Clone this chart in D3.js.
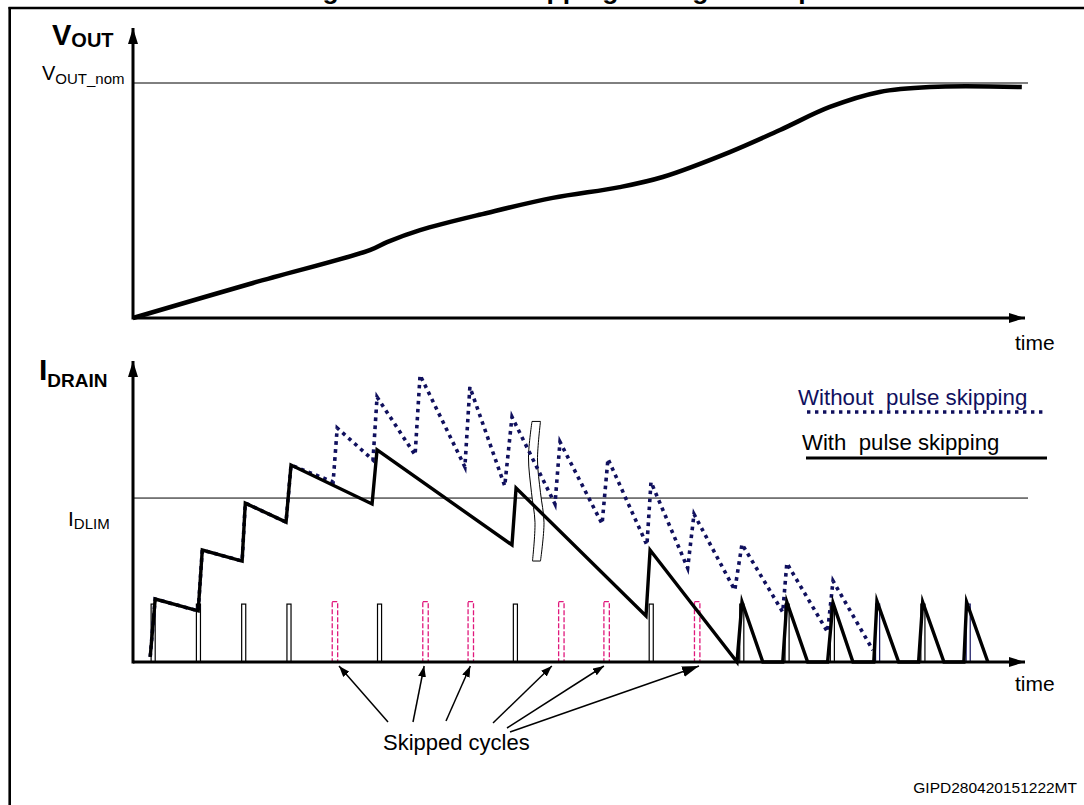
<!DOCTYPE html>
<html lang="en">
<head>
<meta charset="UTF-8">
<title>Pulse skipping during start-up</title>
<script src="https://cdn.jsdelivr.net/npm/d3@7/dist/d3.min.js"></script>
<style>
  body { margin: 0; background: #fff; }
  svg { display: block; font-family: "Liberation Sans", Arial, sans-serif; }
</style>
</head>
<body>
<div id="chart"></div>
<script>
// time axis is counted in switching cycles: cycle n = n-th gate pulse
const pulseCycles = [0, 1, 2, 3, 4, 5, 6, 7, 8, 9, 10, 11, 12, 13, 14, 15, 16, 17, 18];
const skippedCycles = [4, 6, 7, 9, 10, 12];
const navyPulseCycles = [16, 18];
const pulseHeight = 19.5;

// output voltage, fraction of V_OUT_nom
const voutTime = [-0.4, 2.25, 4.83, 5.21, 5.94, 7.42, 8.87, 10.35, 11.30, 12.78, 13.89, 14.99, 16.09, 17.20, 19.23];
const voutValue = [0, 0.149, 0.289, 0.323, 0.374, 0.447, 0.511, 0.557, 0.600, 0.706, 0.800, 0.898, 0.962, 0.983, 0.983];

// drain current, % of the plotted range
const withSkipTime = [-0.02, 0.09, 1.04, 1.13, 2.01, 2.08, 2.98, 3.09, 4.88, 4.99, 7.97, 8.06, 10.93, 11.02, 12.94,
  13.05, 13.51, 13.95, 14.04, 14.50, 14.94, 15.06, 15.50, 15.96, 16.03, 16.51, 16.95, 17.04, 17.51, 17.95, 18.01, 18.48];
const withSkipCurrent = [1.7, 21.2, 17.2, 37.7, 34.0, 53.5, 47.1, 66.3, 53.2, 71.4, 39.4, 58.6, 15.5, 37.7, 0,
  20.2, 0, 0, 20.2, 0, 0, 19.9, 0, 0, 20.5, 0, 0, 20.2, 0, 0, 20.2, 0];

const noSkipTime = [-0.02, 0.09, 1.04, 1.13, 2.01, 2.08, 2.98, 3.09, 4.02, 4.11, 4.90, 4.99, 5.83, 5.94, 6.93, 7.04,
  7.81, 7.97, 8.92, 9.03, 9.96, 10.09, 10.95, 11.04, 11.85, 11.99, 12.89, 13.05, 13.95, 14.04, 14.94, 15.06, 15.94];
const noSkipCurrent = [1.7, 21.2, 17.2, 37.7, 34.0, 53.5, 47.1, 66.3, 60.6, 78.8, 68.0, 89.2, 69.7, 96.6, 65.7, 92.6,
  59.3, 82.5, 53.2, 74.1, 46.5, 68.4, 39.4, 60.6, 31.6, 49.8, 24.2, 39.7, 16.8, 33.3, 10.1, 27.3, 4.0];

const currentLimit = 55.2;
const arrowTargets = [4.15, 6.03, 7.05, 8.85, 10.0, 12.1];

const navy = "#10105e", pink = "#e0187c";
const W = 1084, H = 805;

const svg = d3.select("#chart").append("svg")
  .attr("width", W)
  .attr("height", H);

const x = d3.scaleLinear().domain([-0.4, 19.3]).range([133, 1025]);
const yV = d3.scaleLinear().domain([0, 1]).range([318, 83]);
const yI = d3.scaleLinear().domain([0, 100]).range([662, 365]);

// arrow heads
const defs = svg.append("defs");
function marker(id, len, wid) {
  defs.append("marker")
    .attr("id", id)
    .attr("viewBox", `0 0 ${len} ${wid}`)
    .attr("refX", len).attr("refY", wid / 2)
    .attr("markerWidth", len).attr("markerHeight", wid)
    .attr("markerUnits", "userSpaceOnUse")
    .attr("orient", "auto")
    .append("path")
    .attr("d", `M0,0L${len},${wid / 2}L0,${wid}Z`)
    .attr("fill", "#000");
}
marker("axisArrow", 16, 10);
marker("smallArrow", 11, 8);
marker("bigArrow", 17, 11);

// frame + title (cut by the top edge, as in the source figure)
svg.append("text")
  .attr("x", 299).attr("y", -1)
  .attr("font-size", 26.5).attr("font-weight", "bold")
  .text("Figure 12. Pulse skipping during start-up");
svg.append("line").attr("x1", 8.5).attr("x2", W).attr("y1", 8).attr("y2", 8)
  .attr("stroke", "#000").attr("stroke-width", 2.6);
svg.append("line").attr("x1", 9.7).attr("x2", 9.7).attr("y1", 7).attr("y2", H)
  .attr("stroke", "#000").attr("stroke-width", 2.6);

// ---------- V_OUT panel ----------
const voutPanel = svg.append("g");
voutPanel.append("line")
  .attr("x1", x(-0.4)).attr("x2", 1028)
  .attr("y1", yV(1)).attr("y2", yV(1))
  .attr("stroke", "#000").attr("stroke-width", 1);

voutPanel.append("path")
  .datum(voutTime.map((t, i) => [t, voutValue[i]]))
  .attr("fill", "none")
  .attr("stroke", "#000")
  .attr("stroke-width", 4.5)
  .attr("d", d3.line().x(d => x(d[0])).y(d => yV(d[1])).curve(d3.curveCatmullRom.alpha(0.5)));

voutPanel.append("line")
  .attr("x1", x.range()[0]).attr("x2", x.range()[1])
  .attr("y1", yV(0)).attr("y2", yV(0))
  .attr("stroke", "#000").attr("stroke-width", 3)
  .attr("marker-end", "url(#axisArrow)");
voutPanel.append("line")
  .attr("x1", x.range()[0]).attr("x2", x.range()[0])
  .attr("y1", yV(0) + 1.5).attr("y2", 28)
  .attr("stroke", "#000").attr("stroke-width", 3)
  .attr("marker-end", "url(#axisArrow)");

const vLab = voutPanel.append("text").attr("x", 52).attr("y", 45).attr("font-weight", "bold");
vLab.append("tspan").attr("font-size", 29).text("V");
vLab.append("tspan").attr("font-size", 20).attr("dy", 2).text("OUT");

const nomLab = voutPanel.append("text").attr("x", 42).attr("y", 80);
nomLab.append("tspan").attr("font-size", 20).text("V");
nomLab.append("tspan").attr("font-size", 15).attr("dy", 4).text("OUT_nom");

voutPanel.append("text").attr("x", 1015).attr("y", 350).attr("font-size", 21).text("time");

// ---------- I_DRAIN panel ----------
const drainPanel = svg.append("g");

drainPanel.append("line")
  .attr("x1", x(-0.4)).attr("x2", 1028)
  .attr("y1", yI(currentLimit)).attr("y2", yI(currentLimit))
  .attr("stroke", "#000").attr("stroke-width", 1);

// gate pulses
const pw = 0.09;
drainPanel.append("g").selectAll("rect")
  .data(pulseCycles.filter(c => !skippedCycles.includes(c)))
  .join("rect")
  .attr("x", c => x(c))
  .attr("y", yI(pulseHeight))
  .attr("width", x(pw) - x(0))
  .attr("height", yI(0) - yI(pulseHeight))
  .attr("fill", "#fff")
  .attr("stroke", c => navyPulseCycles.includes(c) ? navy : "#000")
  .attr("stroke-width", 1.2);

drainPanel.append("g").selectAll("rect")
  .data(skippedCycles)
  .join("rect")
  .attr("x", c => x(c))
  .attr("y", yI(pulseHeight + 0.8))
  .attr("width", x(0.12) - x(0))
  .attr("height", yI(0) - yI(pulseHeight + 0.8))
  .attr("fill", "none")
  .attr("stroke", pink)
  .attr("stroke-width", 1.3)
  .attr("stroke-dasharray", "5,2");

// break marker
const bx = x(8.5);
const breakLeft = [[bx - 4, yI(81)], [bx - 7.5, yI(69)], [bx - 4.5, yI(57)], [bx - 1, yI(47)], [bx - 3.5, yI(34)]];
const breakRight = [[bx + 4.5, yI(34)], [bx + 8, yI(47)], [bx + 4.5, yI(57)], [bx + 1.5, yI(68)], [bx + 4.5, yI(81)]];
const edge = d3.line().curve(d3.curveCatmullRom);
drainPanel.append("path")
  .attr("d", edge(breakLeft) + "L" + edge(breakRight).slice(1) + "Z")
  .attr("fill", "#fff")
  .attr("stroke", "#000")
  .attr("stroke-width", 1);

const lineI = d3.line().x(d => x(d[0])).y(d => yI(d[1]));

drainPanel.append("path")
  .datum(noSkipTime.map((t, i) => [t, noSkipCurrent[i]]))
  .attr("fill", "none")
  .attr("stroke", navy)
  .attr("stroke-width", 3.6)
  .attr("stroke-dasharray", "3.6,4.4")
  .attr("d", lineI);

drainPanel.append("path")
  .datum(withSkipTime.map((t, i) => [t, withSkipCurrent[i]]))
  .attr("fill", "none")
  .attr("stroke", "#000")
  .attr("stroke-width", 3.4)
  .attr("stroke-linejoin", "miter")
  .attr("stroke-miterlimit", 10)
  .attr("d", lineI);

drainPanel.append("line")
  .attr("x1", x.range()[0]).attr("x2", x.range()[1])
  .attr("y1", yI(0)).attr("y2", yI(0))
  .attr("stroke", "#000").attr("stroke-width", 3)
  .attr("marker-end", "url(#axisArrow)");
drainPanel.append("line")
  .attr("x1", x.range()[0]).attr("x2", x.range()[0])
  .attr("y1", yI(0) + 1.5).attr("y2", 361)
  .attr("stroke", "#000").attr("stroke-width", 3)
  .attr("marker-end", "url(#axisArrow)");

const iLab = drainPanel.append("text").attr("x", 39).attr("y", 380).attr("font-weight", "bold");
iLab.append("tspan").attr("font-size", 30).text("I");
iLab.append("tspan").attr("font-size", 19).attr("dy", 7).text("DRAIN");

const limLab = drainPanel.append("text").attr("x", 68).attr("y", 526);
limLab.append("tspan").attr("font-size", 21).text("I");
limLab.append("tspan").attr("font-size", 15).attr("dy", 3).text("DLIM");

drainPanel.append("text").attr("x", 1015).attr("y", 691).attr("font-size", 21).text("time");

// legend
const legend = drainPanel.append("g");
legend.append("text").attr("x", 798).attr("y", 405).attr("font-size", 22.3)
  .attr("fill", navy).attr("xml:space", "preserve").text("Without  pulse skipping");
legend.append("line").attr("x1", 807).attr("x2", 1047).attr("y1", 412).attr("y2", 412)
  .attr("stroke", navy).attr("stroke-width", 3.4).attr("stroke-dasharray", "3.4,4.6");
legend.append("text").attr("x", 802).attr("y", 450).attr("font-size", 22.2)
  .attr("fill", "#000").attr("xml:space", "preserve").text("With  pulse skipping");
legend.append("line").attr("x1", 806).attr("x2", 1047).attr("y1", 458).attr("y2", 458)
  .attr("stroke", "#000").attr("stroke-width", 3.2);

// skipped cycles annotation
const arrowStarts = [[388, 722], [413, 722], [446, 721], [493, 723], [507, 728], [510, 732]];
drainPanel.append("g").selectAll("line")
  .data(arrowTargets)
  .join("line")
  .attr("x1", (t, i) => arrowStarts[i][0])
  .attr("y1", (t, i) => arrowStarts[i][1])
  .attr("x2", t => x(t))
  .attr("y2", yI(0) + 4)
  .attr("stroke", "#000")
  .attr("stroke-width", 1.5)
  .attr("marker-end", (t, i) => i === arrowTargets.length - 1 ? "url(#bigArrow)" : "url(#smallArrow)");

drainPanel.append("text").attr("x", 383).attr("y", 750).attr("font-size", 22).text("Skipped cycles");

svg.append("text").attr("x", 1077).attr("y", 793).attr("text-anchor", "end")
  .attr("font-size", 15.5).text("GIPD280420151222MT");
</script>
</body>
</html>
